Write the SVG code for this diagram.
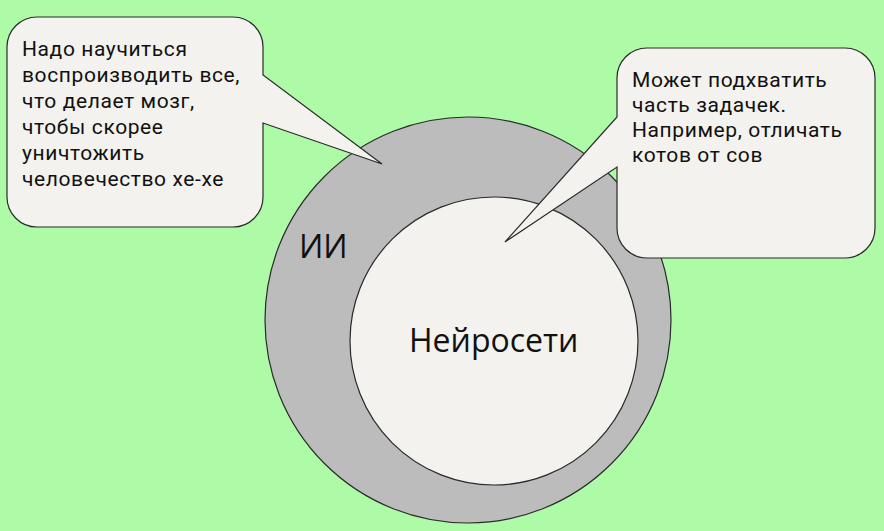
<svg xmlns="http://www.w3.org/2000/svg" width="884" height="531" viewBox="0 0 884 531">
<style>
.shape{stroke:#2a2a2a;stroke-width:1.2}
.bubble{fill:#f3f2ee}
.t{font-family:"Open Sans","Noto Sans",sans-serif;fill:#111}
.s{font-family:Roboto,"Open Sans",sans-serif;font-size:21px;letter-spacing:0.6px}
.b{font-size:32px}
</style>
<rect width="884" height="531" fill="#adfaa7"/>
<g id="ai">
<circle class="shape" cx="468" cy="320" r="203" fill="#bcbcbc"/>
<text class="t b" x="299" y="258">ИИ</text>
</g>
<g id="nn">
<circle class="shape" cx="494" cy="341" r="144" fill="#f3f2ee"/>
<text class="t b" x="409" y="352">Нейросети</text>
</g>
<g id="callout-left">
<path class="shape bubble" d="M37,17 H233 A30,30 0 0 1 263,47 V75 L382,164 L263,123 V197 A30,30 0 0 1 233,227 H37 A30,30 0 0 1 7,197 V47 A30,30 0 0 1 37,17 Z"/>
<text class="t s" x="22" y="56">Надо научиться</text>
<text class="t s" x="22" y="82">воспроизводить все,</text>
<text class="t s" x="22" y="108">что делает мозг,</text>
<text class="t s" x="22" y="134">чтобы скорее</text>
<text class="t s" x="22" y="160">уничтожить</text>
<text class="t s" x="22" y="186">человечество хе-хе</text>
</g>
<g id="callout-right">
<path class="shape bubble" d="M647,48 H845 A30,30 0 0 1 875,78 V228 A30,30 0 0 1 845,258 H647 A30,30 0 0 1 617,228 V167 L505,242 L617,117 V78 A30,30 0 0 1 647,48 Z"/>
<text class="t s" x="632" y="87">Может подхватить</text>
<text class="t s" x="632" y="112">часть задачек.</text>
<text class="t s" x="632" y="137">Например, отличать</text>
<text class="t s" x="632" y="162">котов от сов</text>
</g>
<g id="connectors"></g>
</svg>
